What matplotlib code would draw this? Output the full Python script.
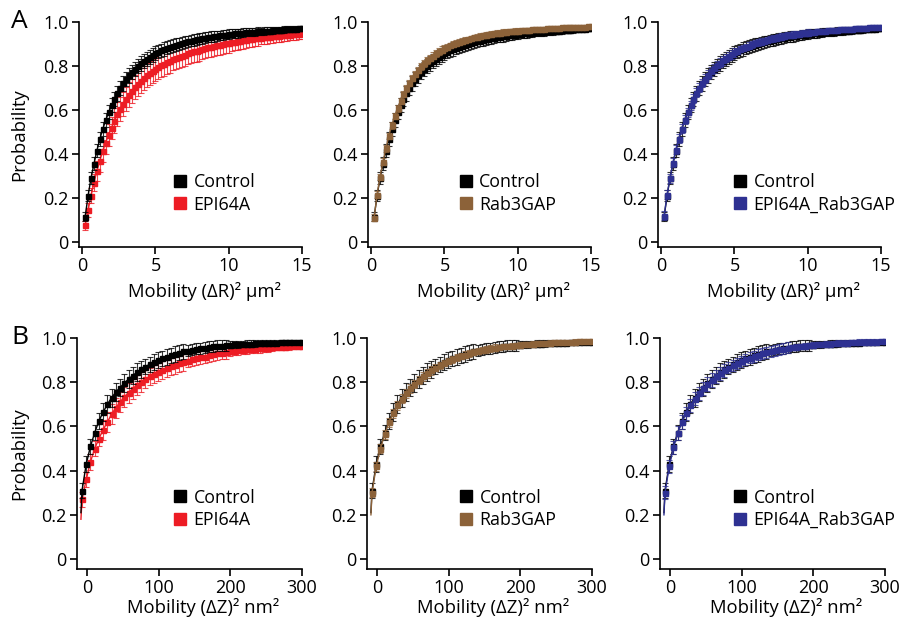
import matplotlib
matplotlib.use("Agg")
import matplotlib.pyplot as plt
from matplotlib.lines import Line2D
import matplotlib.colors as mcolors
import numpy as np

plt.rcParams['font.family'] = ['Open Sans', 'DejaVu Sans']

W, H = 899, 623

# ---- data: top row, mobility (dR)^2 um^2, points every 0.2 ----
dr_x = np.round(np.arange(1, 76) * 0.2, 1)

ctrl_r = [.115, .21, .29, .355, .415, .468, .513, .553, .589, .621,
          .650, .676, .700, .721, .740, .757, .773, .787, .800, .812,
          .823, .833, .842, .850, .858, .865, .871, .877, .883, .888,
          .893, .897, .901, .905, .909, .912, .915, .918, .921, .924,
          .926, .929, .931, .933, .935, .937, .939, .941, .943, .945,
          .946, .948, .949, .950, .952, .953, .954, .955, .956, .957,
          .958, .959, .960, .961, .962, .963, .964, .965, .966, .967,
          .968, .969, .970, .971, .972]
ctrl_r_err = ([.022, .026, .028, .03, .03] + [.032] * 5 + [.033] * 10 + [.032] * 5
              + [.030] * 5 + [.028] * 5 + [.026] * 5 + [.024] * 5 + [.022] * 5
              + [.020] * 5 + [.018] * 5 + [.016] * 5 + [.014] * 5 + [.012] * 5)

epi_r = [.075, .145, .21, .27, .322, .370, .413, .452, .488, .520,
         .552, .580, .606, .629, .650, .670, .688, .705, .720, .734,
         .746, .758, .769, .779, .788, .796, .804, .811, .818, .824,
         .830, .836, .842, .847, .852, .857, .862, .866, .870, .874,
         .878, .882, .885, .888, .891, .894, .897, .900, .903, .906,
         .908, .911, .913, .915, .917, .919, .921, .923, .925, .927,
         .929, .930, .932, .933, .935, .936, .938, .939, .940, .942,
         .943, .944, .945, .946, .948]
epi_r_err = ([.02, .03, .035, .04, .045] + [.05] * 5 + [.055] * 20 + [.05] * 10
             + [.045] * 10 + [.04] * 5 + [.035] * 5 + [.03] * 5 + [.028] * 5 + [.025] * 5)

rab_r = [.11, .215, .295, .365, .425, .482, .530, .572, .608, .641,
         .672, .699, .723, .745, .764, .782, .798, .812, .825, .837,
         .847, .857, .866, .874, .881, .888, .894, .900, .905, .910,
         .914, .918, .922, .926, .930, .933, .936, .939, .941, .944,
         .946, .948, .950, .952, .954, .955, .957, .958, .959, .961,
         .962, .963, .964, .965, .966, .967, .968, .969, .970, .971,
         .972, .972, .973, .974, .975, .975, .976, .977, .977, .978,
         .978, .979, .979, .980, .980]
rab_r_err = [.015] * 25 + [.012] * 25 + [.008] * 25

epirab_r = [.12, .215, .29, .36, .42, .47, .515, .555, .59, .622,
            .652, .678, .702, .723, .742, .76, .776, .79, .803, .815,
            .826, .836, .845, .854, .862, .869, .876, .882, .888, .893,
            .898, .903, .907, .911, .915, .919, .922, .925, .928, .931,
            .934, .936, .939, .941, .943, .945, .947, .949, .951, .952,
            .954, .955, .957, .958, .959, .961, .962, .963, .964, .965,
            .966, .967, .968, .969, .970, .971, .972, .973, .973, .974,
            .975, .976, .977, .977, .978]
epirab_r_err = [.02] * 25 + [.014] * 25 + [.009] * 25

# ---- data: bottom row, mobility (dZ)^2 nm^2 ----
dz_x = np.round(-7 + 5.9 * np.arange(53), 1)
dz_lead_x = -8.5

ctrl_z_lead = .21
ctrl_z = [.31, .43, .51, .572, .625, .665, .70, .73, .755, .776,
          .796, .814, .83, .845, .858, .870, .881, .891, .900, .908,
          .915, .922, .928, .934, .939, .943, .947, .951, .954, .957,
          .960, .962, .964, .966, .968, .970, .971, .972, .973, .974,
          .975, .976, .977, .977, .978, .979, .979, .980, .980, .981,
          .981, .982, .982]
ctrl_z_err = [.035] * 5 + [.04] * 10 + [.035] * 10 + [.025] * 10 + [.015] * 10 + [.01] * 8

epi_z_lead = .18
epi_z = [.27, .36, .44, .50, .545, .585, .62, .655, .685, .71,
         .733, .753, .771, .787, .801, .814, .826, .837, .847, .856,
         .864, .872, .879, .886, .892, .898, .903, .908, .912, .916,
         .922, .926, .930, .934, .937, .940, .942, .945, .947, .949,
         .951, .952, .954, .955, .957, .958, .959, .960, .961, .962,
         .963, .964, .965]
epi_z_err = [.035] * 5 + [.045] * 10 + [.04] * 10 + [.03] * 10 + [.02] * 10 + [.015] * 8

rab_z_lead = .20
rab_z = [.30, .42, .50, .565, .618, .66, .695, .725, .75, .772,
         .792, .81, .826, .841, .854, .866, .877, .887, .896, .904,
         .912, .919, .925, .931, .936, .941, .945, .949, .953, .956,
         .959, .962, .964, .966, .968, .970, .972, .973, .975, .976,
         .977, .978, .979, .980, .981, .982, .983, .983, .984, .985,
         .985, .986, .986]
rab_z_err = [.02] * 15 + [.015] * 15 + [.01] * 23

epirab_z_lead = .20
epirab_z = [.30, .42, .505, .57, .62, .66, .695, .725, .75, .772,
            .792, .81, .826, .84, .853, .865, .876, .886, .895, .903,
            .911, .918, .924, .930, .935, .940, .944, .948, .952, .955,
            .958, .961, .963, .965, .967, .969, .971, .972, .974, .975,
            .976, .977, .978, .979, .980, .981, .982, .982, .983, .984,
            .984, .985, .985]
epirab_z_err = [.03] * 15 + [.025] * 15 + [.012] * 23

BLACK = '#000000'
RED = '#ED1C24'
BROWN = '#8C6239'
BLUE = '#2E3192'

TICK_FS = 13
LABEL_FS = 13.3
LEG_FS = 12.8

fig = plt.figure(figsize=(W / 100, H / 100), dpi=100)


def make_ax(left, top, right, bottom):
    ax = fig.add_axes([left / W, 1 - bottom / H, (right - left) / W, (bottom - top) / H])
    for s in ['top', 'right']:
        ax.spines[s].set_visible(False)
    for s in ['left', 'bottom']:
        ax.spines[s].set_linewidth(1.2)
    ax.tick_params(direction='out', length=5, width=1.2, labelsize=TICK_FS, pad=2.5)
    ax.set_yticks([0, 0.2, 0.4, 0.6, 0.8, 1.0])
    ax.set_yticklabels(['0', '0.2', '0.4', '0.6', '0.8', '1.0'])
    return ax


def series(ax, x, y, err, color, lead=None, lead_x=None, z=2):
    x = np.asarray(x)
    y = np.asarray(y)
    if lead is not None:
        ax.plot(np.r_[lead_x, x[:1]], [lead, y[0]], color=color, lw=1, zorder=z)
    ec = mcolors.to_rgba(color, 0.8)
    ax.errorbar(x, y, yerr=err, fmt='s-', ms=3.6, lw=1, color=color,
                ecolor=ec, elinewidth=0.8, capsize=2.3, capthick=0.8,
                zorder=z)


def legend(ax, labels, colors, fx, fy):
    hs = [Line2D([], [], ls='none', marker='s', ms=8.5, color=c) for c in colors]
    ax.legend(hs, labels, loc='center left', bbox_to_anchor=(fx, fy),
              frameon=False, fontsize=LEG_FS, handlelength=0.6, handletextpad=0.45,
              labelspacing=0.25, borderaxespad=0, borderpad=0)


# top row
top_lefts = [79, 368, 658]
treat_r = [(epi_r, epi_r_err, RED, 'EPI64A'),
           (rab_r, rab_r_err, BROWN, 'Rab3GAP'),
           (epirab_r, epirab_r_err, BLUE, 'EPI64A_Rab3GAP')]
leg_fx_top = [0.43, 0.415, 0.344]
for i, (yv, ev, col, lab) in enumerate(treat_r):
    l = top_lefts[i]
    ax = make_ax(l, 22, l + 223, 247)
    if i == 0:
        series(ax, dr_x, yv, ev, col, z=2)
        series(ax, dr_x, ctrl_r, ctrl_r_err, BLACK, z=3)
        ax.set_ylabel('Probability', fontsize=LABEL_FS)
        ax.yaxis.set_label_coords(-0.229, 0.5)
    else:
        series(ax, dr_x, ctrl_r, ctrl_r_err, BLACK, z=2)
        series(ax, dr_x, yv, ev, col, z=3)
    ax.set_xlim(-0.22, 15)
    ax.set_ylim(-0.023, 1.0)
    ax.set_xticks([0, 5, 10, 15])
    ax.set_xlabel('Mobility (ΔR)² μm²', fontsize=LABEL_FS)
    ax.xaxis.set_label_coords(0.565, -0.155)
    legend(ax, ['Control', lab], [BLACK, col], leg_fx_top[i], 0.238)

# bottom row
bot_lefts = [77, 367, 660]
treat_z = [(epi_z, epi_z_err, epi_z_lead, RED, 'EPI64A'),
           (rab_z, rab_z_err, rab_z_lead, BROWN, 'Rab3GAP'),
           (epirab_z, epirab_z_err, epirab_z_lead, BLUE, 'EPI64A_Rab3GAP')]
leg_fx_bot = [0.435, 0.418, 0.333]
for i, (yv, ev, ld, col, lab) in enumerate(treat_z):
    l = bot_lefts[i]
    ax = make_ax(l, 338, l + 225, 569)
    if i == 0:
        series(ax, dz_x, yv, ev, col, ld, dz_lead_x, z=2)
        series(ax, dz_x, ctrl_z, ctrl_z_err, BLACK, ctrl_z_lead, dz_lead_x, z=3)
        ax.set_ylabel('Probability', fontsize=LABEL_FS)
        ax.yaxis.set_label_coords(-0.218, 0.5)
    else:
        series(ax, dz_x, ctrl_z, ctrl_z_err, BLACK, ctrl_z_lead, dz_lead_x, z=2)
        series(ax, dz_x, yv, ev, col, ld, dz_lead_x, z=3)
    ax.set_xlim(-14, 300)
    ax.set_ylim(-0.045, 1.0)
    ax.set_xticks([0, 100, 200, 300])
    ax.set_xlabel('Mobility (ΔZ)² nm²', fontsize=LABEL_FS)
    ax.xaxis.set_label_coords(0.56, -0.125)
    legend(ax, ['Control', lab], [BLACK, col], leg_fx_bot[i], 0.26)

fig.text(11 / W, 1 - 21 / H, 'A', fontsize=19, va='center', ha='left')
fig.text(11 / W, 1 - 337 / H, 'B', fontsize=19, va='center', ha='left')

fig.savefig('out.png', dpi=100)
